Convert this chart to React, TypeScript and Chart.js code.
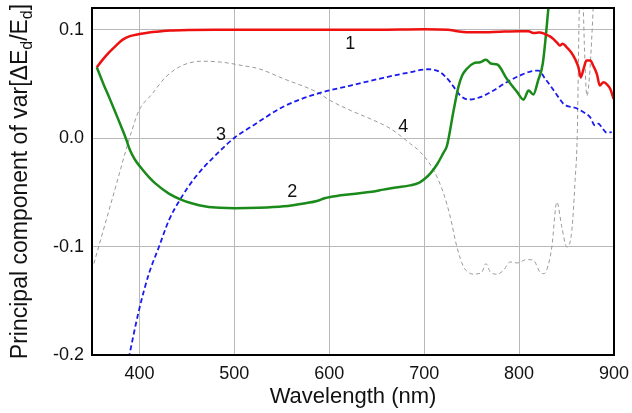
import React, { useEffect, useRef } from "react";
import { Chart, registerables } from "chart.js";

Chart.register(...registerables);

const FONT = '"Liberation Sans", Arial, Helvetica, sans-serif';

// Curve 1 (red)
const RED_X = [355, 360, 368, 375, 382, 390, 400, 410, 417, 425, 435, 452, 480, 550, 650, 700, 725, 735, 745, 760, 780, 800, 810, 815, 819, 822, 827, 832, 836, 840, 843, 846, 850, 855, 859, 862.5, 865, 868, 871, 875, 878, 882, 885, 889, 892, 896, 899.5];
const RED_Y = [0.0654, 0.071, 0.079, 0.085, 0.0906, 0.094, 0.096, 0.0975, 0.098, 0.0988, 0.0992, 0.0996, 0.0999, 0.1, 0.1, 0.1005, 0.1, 0.0985, 0.0976, 0.0976, 0.0982, 0.0986, 0.0985, 0.097, 0.0972, 0.0975, 0.096, 0.094, 0.0915, 0.088, 0.0854, 0.087, 0.084, 0.079, 0.073, 0.0654, 0.056, 0.064, 0.0716, 0.0716, 0.067, 0.059, 0.0485, 0.0516, 0.05, 0.0455, 0.0363];

// Curve 2 (green)
const GREEN_X = [355, 362, 368, 375, 382, 386, 390, 395, 401, 410, 417, 431, 443, 455, 470, 485, 501, 525, 552, 575, 587, 595, 601, 622, 640, 657, 670, 685, 695, 700, 707, 714, 720, 724, 731, 736, 740, 745, 752, 759, 765, 771, 777, 787, 798, 804.6, 810, 815, 820, 825, 831, 836];
const GREEN_Y = [0.0654, 0.05, 0.0378, 0.023, 0.008, -0.001, -0.011, -0.0195, -0.0267, -0.036, -0.042, -0.0512, -0.0564, -0.06, -0.063, -0.0643, -0.0647, -0.0643, -0.0629, -0.06, -0.058, -0.0555, -0.0543, -0.0518, -0.05, -0.0475, -0.0455, -0.0436, -0.041, -0.038, -0.032, -0.0236, -0.014, -0.007, 0.0255, 0.047, 0.0577, 0.064, 0.069, 0.07, 0.0722, 0.0685, 0.0679, 0.0547, 0.0424, 0.0354, 0.0439, 0.0402, 0.053, 0.069, 0.121, 0.17];

// Curve 3 (blue, dashed)
const BLUE_X = [387, 399.5, 410, 420.5, 431, 443, 459, 480, 501, 517, 552, 587, 622.5, 657, 685.5, 703, 710, 717, 722, 727.5, 733, 738, 747, 759, 773, 787, 801, 811.7, 820.4, 827.5, 834.5, 841.4, 846.7, 852, 859, 867.7, 874.8, 880, 883.5, 887, 892.4, 897.6];
const BLUE_Y = [-0.21, -0.1587, -0.1249, -0.1004, -0.0758, -0.0564, -0.0359, -0.0159, 0.001, 0.0101, 0.0292, 0.0409, 0.0485, 0.0556, 0.0608, 0.0635, 0.063, 0.0608, 0.057, 0.0516, 0.045, 0.0393, 0.0356, 0.0378, 0.0439, 0.0516, 0.0577, 0.0614, 0.0623, 0.0547, 0.0464, 0.0378, 0.0317, 0.0292, 0.028, 0.024, 0.0193, 0.0117, 0.0133, 0.0101, 0.005, 0.0055];

// Curve 4 (gray, thin dashed)
const GRAY_X = [352, 372, 392, 399.5, 413.5, 427.5, 445, 466, 487, 508, 526, 552, 587, 601, 622.5, 643, 664.5, 685.5, 696, 710, 720.5, 727.5, 734.5, 741.5, 747, 752, 757, 761, 765, 769.6, 776.7, 783.6, 790.6, 797.7, 808, 815, 822, 826, 829, 834.5, 839.8, 845, 850.3, 855.6, 859, 861.4, 863, 865, 867, 869, 871.4, 874, 877, 879, 881];
const GRAY_Y = [-0.1157, -0.054, 0.007, 0.0255, 0.0409, 0.0562, 0.067, 0.0709, 0.07, 0.067, 0.0639, 0.0547, 0.0424, 0.0347, 0.0255, 0.0179, 0.0087, -0.0052, -0.0129, -0.0297, -0.0512, -0.0727, -0.1004, -0.1188, -0.124, -0.1255, -0.125, -0.1234, -0.1157, -0.1234, -0.1255, -0.1218, -0.1142, -0.1151, -0.112, -0.1126, -0.1234, -0.125, -0.1218, -0.1004, -0.0589, -0.082, -0.1004, -0.085, -0.039, 0.007, 0.1, 0.17, 0.14, 0.08, 0.039, 0.055, 0.1, 0.14, 0.18];

const X_TICKS = [400, 500, 600, 700, 800, 900];
const Y_TICKS = [-0.2, -0.1, 0.0, 0.1];

const CURVE_LABELS = ["1", "2", "3", "4"];
const LABEL_X = [622, 561, 486, 678];
const LABEL_Y = [0.087, -0.0497, 0.0025, 0.0101];

const X_TITLE = "Wavelength (nm)";
const Y_TITLE_PARTS: [string, boolean][] = [
  ["Principal component of var[\u0394E", false],
  ["d", true],
  ["/E", false],
  ["d", true],
  ["]", false],
];

const pts = (xs: number[], ys: number[]) => xs.map((x, i) => ({ x, y: ys[i] }));

const decor = {
  id: "decor",
  afterDatasetsDraw(chart: any) {
    const { ctx, chartArea: a, scales } = chart;
    ctx.save();
    ctx.strokeStyle = "#000";
    ctx.lineWidth = 2;
    ctx.strokeRect(a.left, a.top, a.right - a.left, a.bottom - a.top);

    ctx.fillStyle = "#111";
    ctx.font = `18px ${FONT}`;
    ctx.textAlign = "center";
    ctx.textBaseline = "middle";
    CURVE_LABELS.forEach((t, i) => {
      ctx.fillText(t, scales.x.getPixelForValue(LABEL_X[i]), scales.y.getPixelForValue(LABEL_Y[i]));
    });

    // x title
    ctx.font = `22px ${FONT}`;
    ctx.textBaseline = "alphabetic";
    ctx.textAlign = "center";
    ctx.fillText(X_TITLE, (a.left + a.right) / 2, chart.height - 10);

    // y title with subscripts
    const big = `23px ${FONT}`;
    const small = `16px ${FONT}`;
    let total = 0;
    Y_TITLE_PARTS.forEach(([t, sub]) => {
      ctx.font = sub ? small : big;
      total += ctx.measureText(t).width;
    });
    ctx.translate(27, (a.top + a.bottom) / 2);
    ctx.rotate(-Math.PI / 2);
    ctx.textAlign = "left";
    let x = -total / 2;
    Y_TITLE_PARTS.forEach(([t, sub]) => {
      ctx.font = sub ? small : big;
      ctx.fillText(t, x, sub ? 5 : 0);
      x += ctx.measureText(t).width;
    });
    ctx.restore();
  },
};

export default function App() {
  const ref = useRef<HTMLCanvasElement | null>(null);
  useEffect(() => {
    document.body.style.margin = "0";
    const canvas = ref.current;
    if (!canvas) return;
    const line = (data: any, color: string, width: number, dash: number[]) => ({
      data,
      borderColor: color,
      borderWidth: width,
      borderDash: dash,
      pointRadius: 0,
      fill: false,
      cubicInterpolationMode: "monotone" as const,
    });
    const chart = new Chart(canvas, {
      type: "line",
      data: {
        datasets: [
          line(pts(RED_X, RED_Y), "#ee1111", 2.5, []),
          line(pts(GREEN_X, GREEN_Y), "#1a8a1a", 2.5, []),
          line(pts(BLUE_X, BLUE_Y), "#1a1aee", 1.8, [5, 3]),
          line(pts(GRAY_X, GRAY_Y), "#9a9a9a", 1, [4, 3]),
        ],
      },
      options: {
        animation: false,
        responsive: false,
        devicePixelRatio: 1,
        layout: { padding: { left: 0, right: 18, top: 8, bottom: 0 } },
        plugins: { legend: { display: false }, tooltip: { enabled: false } },
        scales: {
          x: {
            type: "linear",
            min: 350,
            max: 900,
            afterFit: (s: any) => {
              s.height = 58;
              s.paddingLeft = 0;
              s.paddingRight = 0;
            },
            afterBuildTicks: (s: any) => {
              s.ticks = X_TICKS.map((v) => ({ value: v }));
            },
            grid: { color: "#b8b8b8", lineWidth: 1, drawTicks: false },
            border: { display: false },
            ticks: {
              color: "#111",
              font: { size: 18, family: FONT },
              padding: 8,
              maxRotation: 0,
              autoSkip: false,
              callback: (v: any) => String(v),
            },
          },
          y: {
            type: "linear",
            min: -0.2,
            max: 0.12,
            afterFit: (s: any) => {
              s.width = 92;
              s.paddingTop = 0;
              s.paddingBottom = 0;
            },
            afterBuildTicks: (s: any) => {
              s.ticks = Y_TICKS.map((v) => ({ value: v }));
            },
            grid: { color: "#b8b8b8", lineWidth: 1, drawTicks: false },
            border: { display: false },
            ticks: {
              color: "#111",
              font: { size: 18, family: FONT },
              padding: 8,
              autoSkip: false,
              callback: (v: any) => Number(v).toFixed(1),
            },
          },
        },
      },
      plugins: [decor],
    });
    return () => chart.destroy();
  }, []);
  return (
    <div style={{ width: 632, height: 413 }}>
      <canvas ref={ref} width={632} height={413} style={{ display: "block" }} />
    </div>
  );
}
